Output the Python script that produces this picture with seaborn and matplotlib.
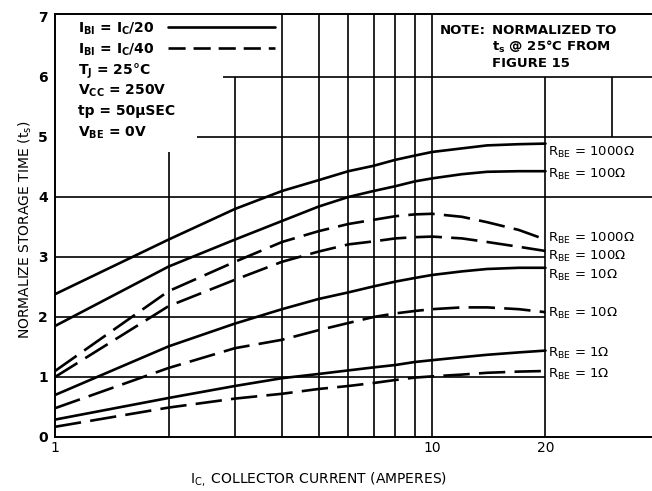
import matplotlib
matplotlib.use("Agg")
import matplotlib.pyplot as plt
from matplotlib.ticker import NullLocator
import pandas as pd
import seaborn as sns

# collector current (A) where the curves were read
current = [1, 2, 3, 4, 5, 6, 7, 8, 9, 10, 12, 14, 17, 20]

# I_BI = I_C/20  (solid curves)
solid_1000 = [2.38, 3.29, 3.80, 4.10, 4.28, 4.43, 4.52, 4.62, 4.69, 4.75, 4.81, 4.86, 4.88, 4.89]
solid_100 = [1.85, 2.84, 3.29, 3.60, 3.84, 4.00, 4.10, 4.18, 4.26, 4.31, 4.38, 4.42, 4.43, 4.43]
solid_10 = [0.70, 1.51, 1.89, 2.13, 2.30, 2.41, 2.51, 2.59, 2.65, 2.70, 2.76, 2.80, 2.82, 2.82]
solid_1 = [0.29, 0.65, 0.85, 0.98, 1.05, 1.11, 1.16, 1.20, 1.25, 1.28, 1.33, 1.37, 1.41, 1.44]

# I_BI = I_C/40  (dashed curves)
dashed_1000 = [1.10, 2.43, 2.92, 3.25, 3.43, 3.55, 3.62, 3.68, 3.71, 3.72, 3.67, 3.58, 3.45, 3.29]
dashed_100 = [1.00, 2.18, 2.62, 2.92, 3.09, 3.21, 3.26, 3.31, 3.33, 3.34, 3.31, 3.25, 3.17, 3.10]
dashed_10 = [0.48, 1.15, 1.48, 1.62, 1.78, 1.90, 2.00, 2.06, 2.10, 2.13, 2.16, 2.16, 2.13, 2.08]
dashed_1 = [0.17, 0.49, 0.64, 0.72, 0.80, 0.85, 0.90, 0.95, 0.99, 1.01, 1.04, 1.07, 1.09, 1.10]

curves = {
    ("IC/20", "1000"): solid_1000,
    ("IC/20", "100"): solid_100,
    ("IC/20", "10"): solid_10,
    ("IC/20", "1"): solid_1,
    ("IC/40", "1000"): dashed_1000,
    ("IC/40", "100"): dashed_100,
    ("IC/40", "10"): dashed_10,
    ("IC/40", "1"): dashed_1,
}

rows = []
for (drive, rbe), vals in curves.items():
    for ic, ts in zip(current, vals):
        rows.append({"curve": drive + "_" + rbe, "drive": drive, "rbe": rbe,
                     "current": ic, "ts": ts})
df = pd.DataFrame(rows)

# curve end labels (top to bottom)
end_labels = ["1000Ω", "100Ω", "1000Ω", "100Ω", "10Ω", "10Ω", "1Ω", "1Ω"]
end_label_y = [156, 178, 242, 260, 279, 317, 357, 378]  # baseline, px from top

sns.set_style("white")
plt.rcParams["font.family"] = ["DejaVu Sans"]
plt.rcParams["text.color"] = "black"
plt.rcParams["axes.labelcolor"] = "black"
plt.rcParams["xtick.color"] = "black"
plt.rcParams["ytick.color"] = "black"

fig = plt.figure(figsize=(6.52, 4.91), dpi=100)
ax = fig.add_axes([0.0844, 0.110, 0.9156, 0.8615])
ax.set_xscale("log")
xmax = 10 ** (597 / 377)
ax.set_xlim(1, xmax)
ax.set_ylim(0, 7.05)

# partial grid as printed on the original sheet
grid_kw = dict(color="black", lw=1.2, zorder=1)
vgrid = [(2, 0, 4.75), (3, 0, 6), (4, 0, 7.05), (5, 0, 7.05), (6, 0, 7.05),
         (7, 0, 7.05), (8, 0, 7.05), (9, 0, 7.05), (10, 0, 7.05), (20, 0, 6),
         (30, 5, 6)]
hgrid = [(1, 1, 20), (2, 1, 20), (3, 1, 20), (4, 1, xmax), (5, 2.38, xmax),
         (6, 2.79, xmax)]
for xv, y0, y1 in vgrid:
    ax.vlines(xv, y0, y1, **grid_kw)
for yv, x0, x1 in hgrid:
    ax.hlines(yv, x0, x1, **grid_kw)

sns.lineplot(data=df, x="current", y="ts", units="curve", estimator=None,
             style="drive", dashes={"IC/20": "", "IC/40": (10, 3.5)},
             color="black", lw=1.9, legend=False, ax=ax, zorder=3)

for side in ["left", "bottom", "top"]:
    ax.spines[side].set_color("black")
    ax.spines[side].set_linewidth(1.4)
ax.spines["right"].set_visible(False)

ax.set_xticks([1, 10, 20])
ax.set_xticklabels(["1", "10", "20"], fontsize=10)
ax.xaxis.set_minor_locator(NullLocator())
ax.set_yticks(range(8))
ax.set_yticklabels([str(v) for v in range(8)], fontsize=10, fontweight="bold")
ax.tick_params(axis="both", length=0)
ax.tick_params(axis="y", pad=5)
ax.tick_params(axis="x", pad=3)

ax.set_xlabel(r"I$_{\mathregular{C,}}$ COLLECTOR CURRENT (AMPERES)", fontsize=10)
ax.xaxis.set_label_coords(0.441, -0.078)
ax.set_ylabel(r"NORMALIZE STORAGE TIME (t$_{\mathregular{s}}$)", fontsize=10)
ax.yaxis.set_label_coords(-0.036, 0.49)


def fy(py):
    return (437 - py) / 423


def fx(px):
    return (px - 55) / 597


# condition block, top left
cond = [r"I$_{\mathregular{BI}}$ = I$_{\mathregular{C}}$/20",
        r"I$_{\mathregular{BI}}$ = I$_{\mathregular{C}}$/40",
        r"T$_{\mathregular{J}}$ = 25°C",
        r"V$_{\mathregular{CC}}$ = 250V",
        "tp = 50μSEC",
        r"V$_{\mathregular{BE}}$ = 0V"]
cond_y = [33, 54, 75, 95, 115, 137]
for s, py in zip(cond, cond_y):
    ax.text(fx(78), fy(py), s, transform=ax.transAxes, fontsize=10,
            fontweight="bold", va="baseline", ha="left", zorder=4)
ax.plot([fx(168), fx(275)], [fy(27), fy(27)], transform=ax.transAxes,
        color="black", lw=1.9)
ax.plot([fx(168), fx(275)], [fy(48), fy(48)], transform=ax.transAxes,
        color="black", lw=1.9, dashes=(6.5, 3))

# note, top right
ax.text(fx(440), fy(34), "NOTE:", transform=ax.transAxes, fontsize=9.5,
        fontweight="bold", va="baseline")
note = ["NORMALIZED TO", r"t$_{\mathregular{s}}$ @ 25°C FROM", "FIGURE 15"]
for s, py in zip(note, [34, 51, 67]):
    ax.text(fx(492), fy(py), s, transform=ax.transAxes, fontsize=9.5,
            fontweight="bold", va="baseline")

for s, py in zip(end_labels, end_label_y):
    ax.text(fx(548), fy(py), r"R$_{\mathregular{BE}}$ = " + s,
            transform=ax.transAxes, fontsize=9.5, va="baseline")

fig.savefig("out.png", dpi=100)
